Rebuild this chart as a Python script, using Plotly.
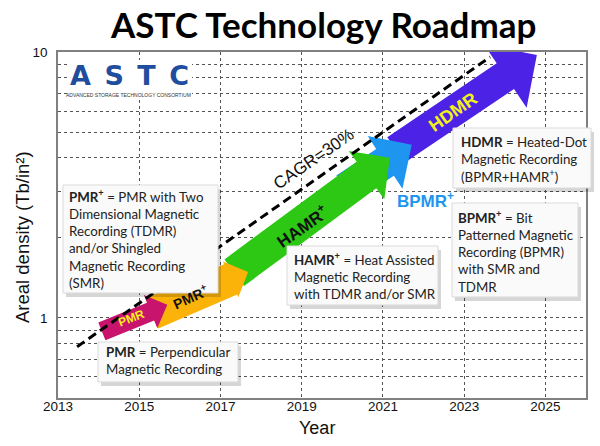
import numpy as np
import plotly.graph_objects as go

# ---------------- data ----------------
year_ticks = [2013, 2015, 2017, 2019, 2021, 2023, 2025]
density_ticks = [1, 10]
density_minor = [0.6, 0.7, 0.8, 0.9, 2, 3, 4, 5, 6, 7, 8, 9]

# arrows, drawn bottom -> top
tech_names = ["HDMR", "BPMR+", "HAMR+", "PMR+", "PMR"]
tail_year = [2021.32, 2020.07, 2017.34, 2015.31, 2014.08]
tail_density = [4.28, 3.06, 1.48, 1.04, 0.89]
tip_year = [2024.79, 2021.71, 2021.17, 2017.68, 2015.69]
tip_density = [9.75, 4.48, 4.00, 1.49, 1.12]

# CAGR = 30% reference line
cagr_year = [2013.47, 2023.64]
cagr_density = [0.779, 9.58]

# ---------------- styles ----------------
arrow_colors = ["#4B22E6", "#1E96F0", "#2DC814", "#FBB30A", "#C8146C"]
body_half = [15.5, 16, 16.5, 16.5, 9.5]   # px
head_half = [38, 31.5, 30, 19.5, 18]       # px
head_len = [38, 32, 29, 19, 18]           # px

W, H = 600, 446
ML, MR, MT, MB = 58, 14, 52, 48
PW, PH = W - ML - MR, H - MT - MB
X0, X1 = 2013, 2026
Y0, Y1 = np.log10(0.5), 1.0
KX = PW / (X1 - X0)
KY = PH / (Y1 - Y0)


def to_px(yr, d):
    return (yr - X0) * KX, (np.log10(d) - Y0) * KY


def from_px(px, py):
    return X0 + px / KX, 10 ** (Y0 + py / KY)


def paper(px, py):
    # page pixel -> paper coords
    return (px - ML) / PW, (H - MB - py) / PH


fig = go.Figure()

for i, name in enumerate(tech_names):
    tx, ty = to_px(tail_year[i], tail_density[i])
    px_, py_ = to_px(tip_year[i], tip_density[i])
    u = np.array([px_ - tx, py_ - ty])
    u = u / np.hypot(*u)
    n = np.array([-u[1], u[0]])
    T = np.array([tx, ty])
    P = np.array([px_, py_])
    B = P - head_len[i] * u
    w, h = body_half[i], head_half[i]
    pts = [T + w * n, B + w * n, B + h * n, P, B - h * n, B - w * n, T - w * n, T + w * n]
    xs, ys = zip(*[from_px(*p) for p in pts])
    fig.add_trace(go.Scatter(x=xs, y=ys, mode="lines", fill="toself",
                             fillcolor=arrow_colors[i], line=dict(width=0),
                             hoverinfo="skip", showlegend=False, name=name))

fig.add_trace(go.Scatter(x=cagr_year, y=cagr_density, mode="lines",
                         line=dict(color="black", width=3, dash="9px,5px"),
                         hoverinfo="skip", showlegend=False))

grid = dict(showgrid=True, gridcolor="#555", griddash="dot", gridwidth=1)
fig.update_layout(
    width=W, height=H, autosize=False,
    margin=dict(l=ML, r=MR, t=MT, b=MB),
    paper_bgcolor="white", plot_bgcolor="white",
    font=dict(family="Liberation Sans, Arial, sans-serif", color="#111"),
    xaxis=dict(range=[X0, X1], tickvals=year_ticks, ticktext=[str(v) for v in year_ticks],
               **grid, showline=True, mirror=True, linecolor="#808080", linewidth=1.5,
               zeroline=False, ticks="", tickfont=dict(size=13.5), ticklabelstandoff=-5),
    yaxis=dict(type="log", range=[Y0, Y1], tickvals=density_ticks,
               ticktext=[str(v) for v in density_ticks],
               **grid, minor=dict(tickvals=density_minor, **grid, ticks=""),
               showline=True, mirror=True, linecolor="#808080", linewidth=1.5,
               zeroline=False, ticks="", tickfont=dict(size=13.5), ticklabelstandoff=6),
)

ann = []
shapes = []

# title
tx, ty = paper(323, 24)
ann.append(dict(text="<b>ASTC Technology Roadmap</b>", x=tx, y=ty, xref="paper", yref="paper",
                showarrow=False, font=dict(family="Lato", size=35, color="black"),
                xanchor="center", yanchor="middle"))
# axis titles
tx, ty = paper(317, 428)
ann.append(dict(text="Year", x=tx, y=ty, xref="paper", yref="paper", showarrow=False,
                font=dict(size=18, color="#111"), xanchor="center", yanchor="middle"))
tx, ty = paper(22, 237)
ann.append(dict(text="Areal density (Tb/in²)", x=tx, y=ty, xref="paper", yref="paper",
                showarrow=False, textangle=-90,
                font=dict(size=18.5, color="#111"), xanchor="center", yanchor="middle"))

# logo
x0p, y0p = paper(68, 60)
x1p, y1p = paper(192, 100)
shapes.append(dict(type="rect", xref="paper", yref="paper", x0=x0p, x1=x1p, y0=y1p, y1=y0p,
                   fillcolor="white", line=dict(width=0), layer="above"))
tx, ty = paper(129, 76)
ann.append(dict(text="<b>A\u2002S\u2002T\u2002C</b>", x=tx, y=ty, xref="paper", yref="paper",
                showarrow=False, font=dict(family="DejaVu Sans", size=27, color="#1F4E9E"),
                xanchor="center", yanchor="middle"))
tx, ty = paper(128, 95)
ann.append(dict(text="ADVANCED STORAGE TECHNOLOGY CONSORTIUM", x=tx, y=ty, xref="paper", yref="paper",
                showarrow=False, font=dict(size=5, color="#333"),
                xanchor="center", yanchor="middle"))

# arrow labels
labels = [
    ("<b>PMR</b>", 131.7, 318.3, -21, 12, "#F5EE1E"),
    ("<b>PMR<sup>+</sup></b>", 190, 296.7, -24, 14, "#111"),
    ("<b>HAMR<sup>+</sup></b>", 302, 226, -35, 17, "#111"),
    ("<b>HDMR</b>", 453, 112, -35, 18, "#F2F21A"),
    ("CAGR=30%", 313, 159, -34.5, 17, "#111"),
    ("<b>BPMR<sup>+</sup></b>", 425, 200, 0, 17, "#1E96F0"),
]
for t, x, y, ang, sz, col in labels:
    px_, py_ = paper(x, y)
    ann.append(dict(text=t, x=px_, y=py_, xref="paper", yref="paper", showarrow=False,
                    textangle=ang, font=dict(size=sz, color=col),
                    xanchor="center", yanchor="middle"))

# description boxes: text, box (left, top, right, bottom), text origin (left, top) in page px
boxes = [
    ("<b>PMR<sup>+</sup></b> = PMR with Two<br>Dimensional Magnetic<br>Recording (TDMR)<br>and/or Shingled<br>Magnetic Recording<br>(SMR)",
     (63, 185, 218, 293), (68, 185.5)),
    ("<b>PMR</b> = Perpendicular<br>Magnetic Recording", (98, 342, 238, 382), (105, 343)),
    ("<b>HAMR<sup>+</sup></b> = Heat Assisted<br>Magnetic Recording<br>with TDMR and/or SMR",
     (287, 246, 438, 305), (293, 248.5)),
    ("<b>HDMR</b> = Heated-Dot<br>Magnetic Recording<br>(BPMR+HAMR<sup>+</sup>)",
     (453, 128, 591, 188), (460, 133)),
    ("<b>BPMR<sup>+</sup></b> = Bit<br>Patterned Magnetic<br>Recording (BPMR)<br>with SMR and<br>TDMR",
     (452, 203, 578, 297), (457, 206.5)),
]
for t, (l, tp, r, b), (xl, yt) in boxes:
    sx0, sy0 = paper(l + 3, tp + 4)
    sx1, sy1 = paper(r + 3, b + 4)
    shapes.append(dict(type="rect", xref="paper", yref="paper", x0=sx0, x1=sx1, y0=sy1, y1=sy0,
                       fillcolor="rgba(0,0,0,0.16)", line=dict(width=0), layer="above"))
    bx0, by0 = paper(l, tp)
    bx1, by1 = paper(r, b)
    shapes.append(dict(type="rect", xref="paper", yref="paper", x0=bx0, x1=bx1, y0=by1, y1=by0,
                       fillcolor="#FAFAFA", line=dict(width=1, color="#DADADA"), layer="above"))
    ax, ay = paper(xl, yt)
    ann.append(dict(text=t, x=ax, y=ay, xref="paper", yref="paper", showarrow=False,
                    xanchor="left", yanchor="top", align="left", borderpad=0,
                    font=dict(family="Lato", size=13.3, color="#222")))

fig.update_layout(annotations=ann, shapes=shapes)
fig.write_html("out.html", config={"displayModeBar": False},
               post_script="document.body.style.margin='0';")
